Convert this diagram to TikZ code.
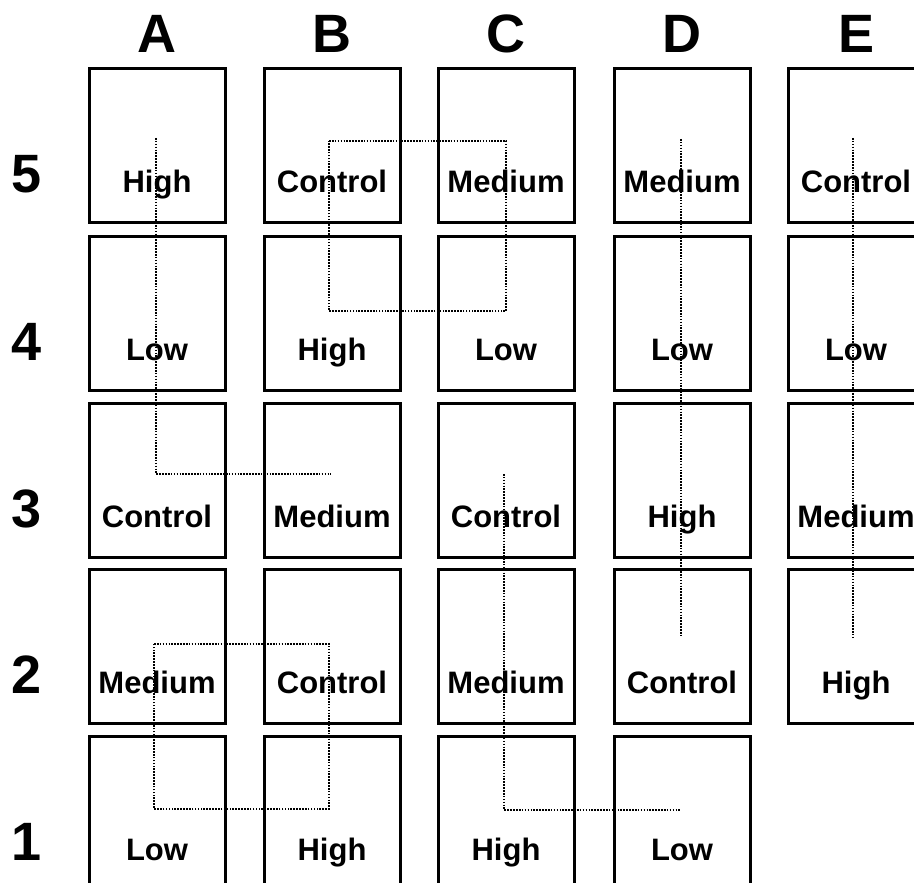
\documentclass[tikz,border=0pt]{standalone}
\usepackage{fontspec}
\setmainfont{Liberation Sans}
\usetikzlibrary{calc}
\tikzset{
  plotbox/.style={draw, line width=3pt, minimum width=136pt, minimum height=154pt,
    inner sep=0pt, outer sep=0pt},
  treat/.style={anchor=base, inner sep=0pt, font=\fontsize{31}{31}\selectfont\bfseries},
  heading/.style={anchor=base, inner sep=0pt, font=\fontsize{54}{54}\selectfont\bfseries},
  walk/.style={line width=1.9pt, dash pattern=on 1.6pt off 1.3pt},
}
\begin{document}
\begin{tikzpicture}[x=1pt,y=1pt]
\useasboundingbox (0,0) rectangle (914,883);
\clip (0,0) rectangle (914,883);
\fill[white] (0,0) rectangle (914,883);

% plots: name / x / y / treatment
\foreach \n/\x/\y/\t in {
  A5/157/737/High, B5/332/737/Control, C5/506/737/Medium, D5/682/737/Medium, E5/856/737/Control,
  A4/157/569/Low, B4/332/569/High, C4/506/569/Low, D4/682/569/Low, E4/856/569/Low,
  A3/157/402/Control, B3/332/402/Medium, C3/506/402/Control, D3/682/402/High, E3/856/402/Medium,
  A2/157/236/Medium, B2/332/236/Control, C2/506/236/Medium, D2/682/236/Control, E2/856/236/High,
  A1/157/69/Low, B1/332/69/High, C1/506/69/High, D1/682/69/Low}
{
  \node[plotbox] (\n) at (\x,\y) {};
  \node[treat] (\n-t) at ($(\n.center)+(0,-47)$) {\t};
}

% column headings
\node[heading] (colA) at (157,830) {A};
\node[heading] (colB) at (332,830) {B};
\node[heading] (colC) at (506,830) {C};
\node[heading] (colD) at (682,830) {D};
\node[heading] (colE) at (857,830) {E};

% row headings
\node[heading] (row5) at (27,690) {5};
\node[heading] (row4) at (27,522) {4};
\node[heading] (row3) at (27,355) {3};
\node[heading] (row2) at (27,189) {2};
\node[heading] (row1) at (27,22) {1};

% dotted walks through the plots
\draw[walk] ($(A5.center)+(-1,8)$) -- ($(A3.center)+(-1,7)$) -- ($(B3.center)+(-1,7)$);
\draw[walk] ($(B5.center)+(-3,5)$) -- ($(C5.center)+(0,5)$) -- ($(C4.center)+(0,3)$)
  -- ($(B4.center)+(-3,3)$) -- cycle;
\draw[walk] ($(A2.center)+(-3,3)$) -- ($(B2.center)+(-3,3)$) -- ($(B1.center)+(-3,5)$)
  -- ($(A1.center)+(-3,5)$) -- cycle;
\draw[walk] ($(C3.center)+(-2,7)$) -- ($(C1.center)+(-2,4)$) -- ($(D1.center)+(-2,4)$);
\draw[walk] ($(D5.center)+(-1,7)$) -- ($(D2.center)+(-1,10)$);
\draw[walk] ($(E5.center)+(-3,8)$) -- ($(E2.center)+(-3,10)$);
\end{tikzpicture}
\end{document}
